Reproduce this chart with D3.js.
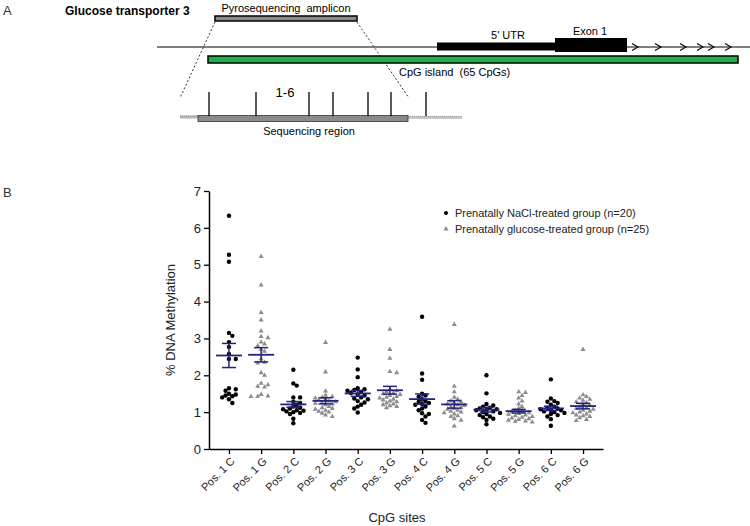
<!DOCTYPE html>
<html><head><meta charset="utf-8">
<script src="https://cdn.jsdelivr.net/npm/d3@7"></script>
<style>
body{margin:0;background:#fff;}
svg text{font-family:"Liberation Sans",Arial,sans-serif;white-space:pre;}
</style></head>
<body>
<svg id="c" width="750" height="526"></svg>
<script>
// ---------- data ----------
const categories = ["Pos. 1 C","Pos. 1 G","Pos. 2 C","Pos. 2 G","Pos. 3 C","Pos. 3 G","Pos. 4 C","Pos. 4 G","Pos. 5 C","Pos. 5 G","Pos. 6 C","Pos. 6 G"];
const groupOf = ["NaCl","glucose","NaCl","glucose","NaCl","glucose","NaCl","glucose","NaCl","glucose","NaCl","glucose"];
const pos1C = [6.33,5.27,5.08,3.15,3.07,2.9,2.77,2.58,2.44,2.44,1.65,1.62,1.58,1.5,1.48,1.45,1.43,1.4,1.35,1.25];
const pos1G = [5.22,4.45,3.7,3.5,3.2,3.05,3.02,2.9,2.85,2.8,2.7,2.65,2.45,2.35,2.33,2.07,2.0,1.78,1.74,1.7,1.68,1.48,1.44,1.43,1.42];
const pos2C = [2.15,1.78,1.72,1.4,1.4,1.28,1.25,1.2,1.15,1.12,1.1,1.08,1.05,1.04,1.02,1.0,0.98,0.95,0.82,0.7];
const pos2G = [2.89,2.09,1.57,1.46,1.42,1.4,1.38,1.35,1.32,1.3,1.28,1.26,1.24,1.22,1.2,1.15,1.12,1.1,1.08,1.05,1.02,1.0,0.97,0.92,0.88];
const pos3C = [2.48,2.16,1.95,1.65,1.62,1.6,1.58,1.55,1.52,1.48,1.45,1.4,1.37,1.35,1.3,1.26,1.2,1.15,1.1,0.99];
const pos3G = [3.25,2.7,2.46,2.1,2.07,1.62,1.58,1.55,1.52,1.5,1.48,1.45,1.42,1.4,1.38,1.35,1.33,1.3,1.28,1.25,1.22,1.2,1.17,1.15,1.12];
const pos4C = [3.59,2.05,1.88,1.5,1.45,1.42,1.35,1.3,1.28,1.25,1.22,1.2,1.15,1.1,1.05,0.97,0.95,0.88,0.79,0.71];
const pos4G = [3.38,1.7,1.55,1.4,1.35,1.3,1.28,1.25,1.22,1.2,1.18,1.15,1.12,1.1,1.08,1.05,1.02,1.0,0.98,0.95,0.9,0.88,0.82,0.78,0.62];
const pos5C = [2.0,1.51,1.22,1.18,1.15,1.12,1.1,1.08,1.06,1.05,1.02,1.0,0.98,0.95,0.92,0.88,0.86,0.82,0.79,0.67];
const pos5G = [1.55,1.53,1.45,1.38,1.3,1.22,1.15,1.1,1.05,1.02,1.0,0.98,0.96,0.94,0.92,0.9,0.88,0.86,0.84,0.82,0.8,0.78,0.76,0.75,0.73];
const pos6C = [1.89,1.37,1.3,1.28,1.25,1.2,1.15,1.12,1.1,1.08,1.06,1.05,1.02,1.0,0.98,0.95,0.92,0.88,0.81,0.63];
const pos6G = [2.7,1.47,1.42,1.38,1.35,1.32,1.28,1.25,1.2,1.18,1.15,1.12,1.1,1.08,1.05,1.02,1.0,0.98,0.95,0.92,0.9,0.88,0.85,0.8,0.77];
const seriesValues = [pos1C,pos1G,pos2C,pos2G,pos3C,pos3G,pos4C,pos4G,pos5C,pos5G,pos6C,pos6G];
const yTicks = [0,1,2,3,4,5,6,7];
const legendLabels = ["Prenatally NaCl-treated group (n=20)","Prenatally glucose-treated group (n=25)"];
const cpgSiteLabel = "1-6";

const svg = d3.select("#c");
const black = "#000", gray = "#8c8c8c", navy = "#23237a", green = "#1fb04b";

// ---------- Panel A (schematic) ----------
const A = svg.append("g");
A.append("text").attr("x",3).attr("y",15).attr("font-size",13).attr("fill","#333").text("A");
A.append("text").attr("x",65).attr("y",15).attr("font-size",12).attr("font-weight","bold").text("Glucose transporter 3");
A.append("text").attr("x",286).attr("y",12).attr("text-anchor","middle").attr("font-size",11).text("Pyrosequencing  amplicon");
A.append("rect").attr("x",215).attr("y",16).attr("width",142).attr("height",5).attr("fill","#8a8a8a").attr("stroke",black).attr("stroke-width",1.5);
A.append("line").attr("x1",215).attr("y1",22).attr("x2",180).attr("y2",98).attr("stroke",black).attr("stroke-width",0.8).attr("stroke-dasharray","2,2");
A.append("line").attr("x1",357).attr("y1",22).attr("x2",409).attr("y2",98).attr("stroke",black).attr("stroke-width",0.8).attr("stroke-dasharray","2,2");
A.append("line").attr("x1",157).attr("y1",47).attr("x2",750).attr("y2",47).attr("stroke",black).attr("stroke-width",1.2);
A.append("rect").attr("x",437).attr("y",42.5).attr("width",118).attr("height",8).attr("fill",black);
A.append("rect").attr("x",555).attr("y",38).attr("width",72).attr("height",14).attr("fill",black);
A.append("text").attr("x",508).attr("y",39).attr("text-anchor","middle").attr("font-size",11).text("5' UTR");
A.append("text").attr("x",590).attr("y",35).attr("text-anchor","middle").attr("font-size",11).text("Exon 1");
[632,655,680,697,708,725].forEach(x=>{
  A.append("path").attr("d",`M${x},43.5 L${x+6},47 L${x},50.5`).attr("fill","none").attr("stroke",black).attr("stroke-width",1.1);
});
A.append("rect").attr("x",208).attr("y",56).attr("width",530).attr("height",7).attr("fill",green).attr("stroke",black).attr("stroke-width",1.5);
A.append("text").attr("x",399).attr("y",76).attr("font-size",11).text("CpG island  (65 CpGs)");
A.append("rect").attr("x",180).attr("y",115.5).attr("width",18).attr("height",3).attr("fill","#b5b5b5");
A.append("rect").attr("x",408).attr("y",116).attr("width",54).attr("height",3).attr("fill","#c8c8c8");
A.append("line").attr("x1",180).attr("y1",116).attr("x2",198).attr("y2",116).attr("stroke","#999").attr("stroke-dasharray","1,1");
A.append("line").attr("x1",408).attr("y1",116.5).attr("x2",462).attr("y2",116.5).attr("stroke","#999").attr("stroke-dasharray","1,1");
A.append("rect").attr("x",198).attr("y",115.5).attr("width",210).attr("height",6).attr("fill","#8a8a8a").attr("stroke","#333").attr("stroke-width",0.8);
[209,256,309,333,368,391,426].forEach(x=>{
  A.append("line").attr("x1",x).attr("y1",92).attr("x2",x).attr("y2",116).attr("stroke",black).attr("stroke-width",1.3);
});
A.append("text").attr("x",285).attr("y",97).attr("text-anchor","middle").attr("font-size",13).text(cpgSiteLabel);
A.append("text").attr("x",309).attr("y",135).attr("text-anchor","middle").attr("font-size",11).text("Sequencing region");

// ---------- Panel B (scatter) ----------
svg.append("text").attr("x",3).attr("y",197).attr("font-size",13).attr("fill","#333").text("B");

const x = d3.scalePoint().domain(categories).range([209,603]).padding(0.62);
const y = d3.scaleLinear().domain([0,7]).range([449,191]);

const yAxis = svg.append("g").attr("transform","translate(209,0)")
  .call(d3.axisLeft(y).tickValues(yTicks).tickFormat(d3.format("d")).tickSize(5).tickSizeOuter(0));
yAxis.select(".domain").attr("stroke-width",1.5);
yAxis.selectAll(".tick line").attr("stroke-width",1.3);
yAxis.selectAll("text").attr("font-size",13).attr("fill","#222").attr("font-family","'Liberation Sans',Arial,sans-serif");

const xAxis = svg.append("g").attr("transform","translate(0,449)")
  .call(d3.axisBottom(x).tickSize(5).tickSizeOuter(0));
xAxis.select(".domain").attr("stroke-width",1.5);
xAxis.selectAll(".tick line").attr("stroke-width",1.3);
xAxis.selectAll("text").attr("font-size",11).attr("fill","#222")
  .attr("font-family","'Liberation Sans',Arial,sans-serif")
  .attr("text-anchor","end").attr("x",0).attr("y",0).attr("dx",0).attr("dy",0)
  .attr("transform","translate(6,13) rotate(-45)");

svg.append("text").attr("transform","translate(175,320) rotate(-90)").attr("text-anchor","middle").attr("font-size",13).attr("fill","#222").text("% DNA Methylation");
svg.append("text").attr("x",397).attr("y",522).attr("text-anchor","middle").attr("font-size",13).attr("fill","#222").text("CpG sites");

// beeswarm placement (deterministic)
function swarm(vals, cx){
  const placed=[]; const minD=3.8, step=3.4;
  const sorted = vals.slice().sort((a,b)=>b-a);
  sorted.forEach(v=>{
    const py=y(v);
    for(let k=0;k<20;k++){
      const off = k===0?0:(k%2===1? Math.ceil(k/2)*step : -Math.ceil(k/2)*step);
      const px=cx+off;
      if(placed.every(p=>Math.hypot(p.x-px,p.y-py)>=minD)||k===19){placed.push({x:px,y:py,v});break;}
    }
  });
  return placed;
}
const tri = d3.symbol().type(d3.symbolTriangle).size(11);
categories.forEach((c,i)=>{
  const vals=seriesValues[i]; const cx=x(c);
  const pts=swarm(vals,cx);
  const g=svg.append("g");
  if(groupOf[i]==="NaCl"){
    g.selectAll("circle").data(pts).join("circle").attr("cx",d=>d.x).attr("cy",d=>d.y).attr("r",2.2).attr("fill",black);
  } else {
    g.selectAll("path").data(pts).join("path").attr("d",tri).attr("transform",d=>`translate(${d.x},${d.y})`).attr("fill",gray);
  }
  const m=d3.mean(vals), sem=d3.deviation(vals)/Math.sqrt(vals.length);
  const e=svg.append("g").attr("stroke",navy).attr("fill","none");
  e.append("line").attr("x1",cx-13).attr("x2",cx+13).attr("y1",y(m)).attr("y2",y(m)).attr("stroke-width",1.8);
  e.append("line").attr("x1",cx).attr("x2",cx).attr("y1",y(m-sem)).attr("y2",y(m+sem)).attr("stroke-width",1.5);
  [m-sem,m+sem].forEach(v=>e.append("line").attr("x1",cx-7).attr("x2",cx+7).attr("y1",y(v)).attr("y2",y(v)).attr("stroke-width",1.5));
});

// legend
const lg = svg.append("g");
lg.append("circle").attr("cx",446).attr("cy",213).attr("r",2).attr("fill",black);
lg.append("path").attr("d",tri).attr("transform","translate(446,229)").attr("fill",gray);
lg.append("text").attr("x",455).attr("y",217).attr("font-size",11).attr("fill","#222").text(legendLabels[0]);
lg.append("text").attr("x",455).attr("y",233).attr("font-size",11).attr("fill","#222").text(legendLabels[1]);
</script>
</body></html>
